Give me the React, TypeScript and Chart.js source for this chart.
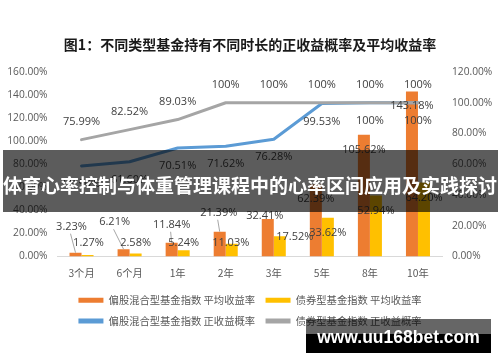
import React, { useEffect, useRef } from "react";
import { Chart, registerables } from "chart.js";

Chart.register(...registerables);

const categories = ["3个月", "6个月", "1年", "2年", "3年", "5年", "8年", "10年"];
const equityAvgReturn = [3.23, 6.21, 11.84, 21.39, 32.41, 62.39, 105.62, 143.18];
const bondAvgReturn = [1.27, 2.58, 5.24, 11.03, 17.52, 33.62, 52.94, 64.2];
const equityPositiveProb = [58.9, 61.6, 70.51, 71.62, 76.28, 99.53, 100, 100];
const bondPositiveProb = [75.99, 82.52, 89.03, 100, 100, 100, 100, 100];
const leftTicks = [0, 20, 40, 60, 80, 100, 120, 140, 160];
const rightTicks = [0, 20, 40, 60, 80, 100, 120];
const seriesNames = [
  "偏股混合型基金指数 平均收益率",
  "债券型基金指数 平均收益率",
  "偏股混合型基金指数 正收益概率",
  "债券型基金指数 正收益概率",
];
const titleText = "图1：不同类型基金持有不同时长的正收益概率及平均收益率";
const bannerText = "体育心率控制与体重管理课程中的心率区间应用及实践探讨";
const watermarkText = "www.uu168bet.com";

const COLORS = ["#ED7D31", "#FFC000", "#5B9BD5", "#A5A5A5"];
const NUM_FONT = '"Open Sans", "Noto Sans CJK SC", sans-serif';
const CJK_FONT = '"Noto Sans CJK SC", "Open Sans", sans-serif';

// label placement tweaks (dx, dy relative to bar top)
const orangeShift = [[-4, -26], [-9, -27], [0, -18], [-1, -19], [-3, -3], [0, 14], [0, 15], [0, 14]];
const yellowShift = [[1, -12], [0, -11], [0, -8], [-1, -1], [15, 1], [0, 15], [0, 15], [0, 15]];

const fmt = (v: number) => (v === 100 ? "100%" : v.toFixed(2) + "%");

const labelPlugin = {
  id: "valueLabels",
  afterDatasetsDraw(chart: any) {
    const ctx = chart.ctx;
    ctx.save();
    ctx.font = `11px ${NUM_FONT}`;
    ctx.fillStyle = "#404040";
    ctx.textAlign = "center";
    ctx.textBaseline = "middle";
    const metaO = chart.getDatasetMeta(0);
    const metaY = chart.getDatasetMeta(1);
    const metaB = chart.getDatasetMeta(2);
    const metaG = chart.getDatasetMeta(3);
    metaO.data.forEach((el: any, i: number) => {
      const [dx, dy] = orangeShift[i];
      const lx = el.x + dx;
      const ly = el.y + dy;
      if (dy < -15) {
        ctx.strokeStyle = "#A6A6A6";
        ctx.lineWidth = 1;
        ctx.beginPath();
        ctx.moveTo(lx - 1, ly + 7);
        ctx.lineTo(el.x, el.y);
        ctx.stroke();
      }
      ctx.fillText(fmt(equityAvgReturn[i]), lx, ly);
    });
    metaY.data.forEach((el: any, i: number) => {
      const [dx, dy] = yellowShift[i];
      ctx.fillText(fmt(bondAvgReturn[i]), el.x + dx, el.y + dy);
    });
    metaB.data.forEach((el: any, i: number) => {
      ctx.fillText(fmt(equityPositiveProb[i]), el.x, el.y + 18);
    });
    metaG.data.forEach((el: any, i: number) => {
      ctx.fillText(fmt(bondPositiveProb[i]), el.x, el.y - 17.5);
    });
    ctx.restore();
  },
};

export default function App() {
  const ref = useRef<HTMLCanvasElement | null>(null);
  useEffect(() => {
    if (!ref.current) return;
    const chart = new Chart(ref.current, {
      type: "bar",
      data: {
        labels: categories,
        datasets: [
          {
            type: "bar",
            label: seriesNames[0],
            data: equityAvgReturn,
            backgroundColor: COLORS[0],
            yAxisID: "y",
            order: 2,
            categoryPercentage: 0.5,
            barPercentage: 1,
          },
          {
            type: "bar",
            label: seriesNames[1],
            data: bondAvgReturn,
            backgroundColor: COLORS[1],
            yAxisID: "y",
            order: 2,
            categoryPercentage: 0.5,
            barPercentage: 1,
          },
          {
            type: "line",
            label: seriesNames[2],
            data: equityPositiveProb,
            borderColor: COLORS[2],
            backgroundColor: COLORS[2],
            borderWidth: 3,
            pointRadius: 0,
            tension: 0,
            yAxisID: "y1",
            order: 1,
            borderJoinStyle: "round",
            borderCapStyle: "round",
          } as any,
          {
            type: "line",
            label: seriesNames[3],
            data: bondPositiveProb,
            borderColor: COLORS[3],
            backgroundColor: COLORS[3],
            borderWidth: 3,
            pointRadius: 0,
            tension: 0,
            yAxisID: "y1",
            order: 0,
            borderJoinStyle: "round",
            borderCapStyle: "round",
          } as any,
        ],
      },
      options: {
        responsive: false,
        animation: false,
        devicePixelRatio: 1,
        layout: { padding: { left: 0, right: 0, top: 0, bottom: 25.75 } },
        plugins: {
          tooltip: { enabled: false },
          title: {
            display: true,
            text: titleText,
            color: "#1a1a1a",
            font: { family: CJK_FONT, size: 14, weight: "bold", lineHeight: 1.2 },
            padding: { top: 36.6, bottom: 18.6 },
          },
          legend: {
            position: "bottom",
            labels: {
              boxWidth: 25,
              boxHeight: 5,
              padding: 10.5,
              color: "#595959",
              font: { family: CJK_FONT, size: 10.3 },
              generateLabels: (c: any) =>
                c.data.datasets.map((ds: any, i: number) => ({
                  text: ds.label,
                  fillStyle: COLORS[i],
                  strokeStyle: COLORS[i],
                  lineWidth: 0,
                  hidden: false,
                  datasetIndex: i,
                  fontColor: "#595959",
                })),
            },
          },
        },
        scales: {
          x: {
            grid: { display: false, drawTicks: false },
            border: { display: true, color: "#D9D9D9", width: 1 },
            ticks: {
              color: "#595959",
              font: { family: CJK_FONT, size: 10.3 },
              padding: 11,
              maxRotation: 0,
            },
            afterFit: (s: any) => {
              s.height = 28.25;
            },
          },
          y: {
            position: "left",
            min: 0,
            max: 160,
            grid: { display: false, drawTicks: false },
            border: { display: false },
            afterBuildTicks: (s: any) => {
              s.ticks = leftTicks.map((v) => ({ value: v }));
            },
            ticks: {
              color: "#595959",
              font: { family: NUM_FONT, size: 10.2 },
              padding: 10,
              callback: (v: any) => Number(v).toFixed(2) + "%",
            },
            afterFit: (s: any) => {
              s.width = 57.5;
            },
          },
          y1: {
            position: "right",
            min: 0,
            max: 120,
            grid: { display: false, drawTicks: false },
            border: { display: false },
            afterBuildTicks: (s: any) => {
              s.ticks = rightTicks.map((v) => ({ value: v }));
            },
            ticks: {
              color: "#595959",
              font: { family: NUM_FONT, size: 10.2 },
              padding: 10,
              callback: (v: any) => Number(v).toFixed(2) + "%",
            },
            afterFit: (s: any) => {
              s.width = 58;
            },
          },
        },
      } as any,
      plugins: [labelPlugin],
    });
    return () => chart.destroy();
  }, []);

  return (
    <div style={{ position: "fixed", left: 0, top: 0, width: 500, height: 362, background: "#fff", overflow: "hidden" }}>
      <canvas ref={ref} width={500} height={362} style={{ display: "block", width: 500, height: 362 }} />
      <div
        style={{
          position: "absolute",
          left: 3,
          top: 150,
          width: 495,
          height: 62,
          background: "rgba(0,0,0,0.64)",
        }}
      />
      <div
        style={{
          position: "absolute",
          left: 0,
          top: 172,
          width: 500,
          height: 26,
          lineHeight: "26px",
          textAlign: "center",
          color: "#fff",
          fontWeight: "bold",
          fontSize: 19,
          fontFamily: CJK_FONT,
          whiteSpace: "nowrap",
        }}
      >
        {bannerText}
      </div>
      <div style={{ position: "absolute", left: 306, top: 319, width: 185, height: 15, background: "rgba(0,0,0,0.6)" }} />
      <div style={{ position: "absolute", left: 306, top: 334, width: 185, height: 19, background: "#000" }} />
      <div
        style={{
          position: "absolute",
          left: 306,
          top: 326,
          width: 185,
          height: 22,
          lineHeight: "22px",
          textAlign: "center",
          color: "#fff",
          fontWeight: "bold",
          fontSize: 17.5,
          fontFamily: '"Liberation Sans", Arial, sans-serif',
          whiteSpace: "nowrap",
        }}
      >
        {watermarkText}
      </div>
    </div>
  );
}
